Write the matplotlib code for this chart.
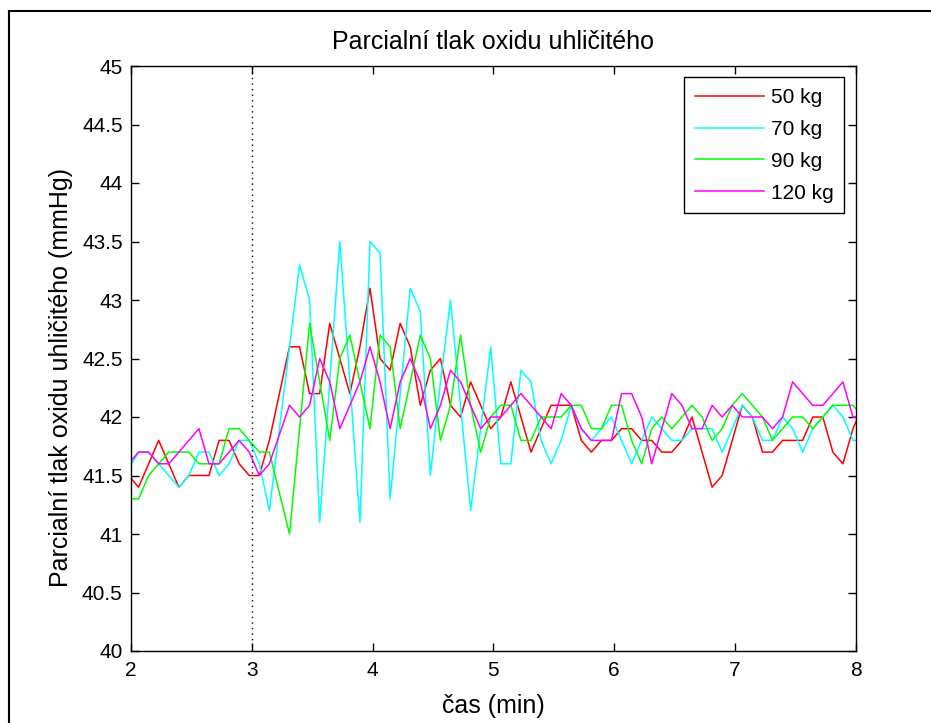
import numpy as np
import matplotlib
matplotlib.use("Agg")
import matplotlib.pyplot as plt
from matplotlib.lines import Line2D

plt.rcParams['font.family'] = ['Liberation Sans', 'DejaVu Sans']

# sample index k = -1 .. 72, sampling every 5 s (1/12 min)
sample_index = np.arange(-1, 73)
time_min = 2.0625 + sample_index / 12.0

series_labels = ["50 kg", "70 kg", "90 kg", "120 kg"]

pco2_50kg = [41.5, 41.4, 41.6, 41.8, 41.6, 41.4, 41.5, 41.5, 41.5, 41.8,
             41.8, 41.6, 41.5, 41.5, 41.8, 42.2, 42.6, 42.6, 42.2, 42.2,
             42.8, 42.5, 42.2, 42.6, 43.1, 42.5, 42.4, 42.8, 42.6, 42.1,
             42.4, 42.5, 42.1, 42.0, 42.3, 42.1, 41.9, 42.0, 42.3, 42.0,
             41.7, 41.9, 42.1, 42.1, 42.1, 41.8, 41.7, 41.8, 41.8, 41.9,
             41.9, 41.8, 41.8, 41.7, 41.7, 41.8, 42.0, 41.7, 41.4, 41.5,
             41.8, 42.1, 42.0, 41.7, 41.7, 41.8, 41.8, 41.8, 42.0, 42.0,
             41.7, 41.6, 41.9, 42.1]

pco2_70kg = [41.55, 41.7, 41.7, 41.6, 41.5, 41.4, 41.5, 41.7, 41.7, 41.5,
             41.6, 41.8, 41.8, 41.6, 41.2, 41.9, 42.6, 43.3, 43.0, 41.1,
             42.3, 43.5, 42.3, 41.1, 43.5, 43.4, 41.3, 42.2, 43.1, 42.9,
             41.5, 42.3, 43.0, 42.1, 41.2, 41.9, 42.6, 41.6, 41.6, 42.4,
             42.3, 41.8, 41.6, 41.8, 42.1, 41.9, 41.8, 41.9, 42.0, 41.8,
             41.6, 41.8, 42.0, 41.9, 41.8, 41.8, 41.9, 41.9, 41.9, 41.7,
             41.9, 42.1, 42.0, 41.8, 41.8, 42.0, 41.9, 41.7, 41.9, 42.0,
             42.1, 42.0, 41.8, 41.8]

pco2_90kg = [41.3, 41.3, 41.5, 41.6, 41.7, 41.7, 41.7, 41.6, 41.6, 41.6,
             41.9, 41.9, 41.8, 41.7, 41.7, 41.35, 41.0, 41.9, 42.8, 42.3,
             41.8, 42.5, 42.7, 42.3, 41.9, 42.7, 42.6, 41.9, 42.3, 42.7,
             42.5, 41.8, 42.1, 42.7, 42.1, 41.7, 42.0, 42.1, 42.1, 41.8,
             41.8, 42.0, 42.0, 42.0, 42.1, 42.1, 41.9, 41.9, 42.1, 42.1,
             41.8, 41.6, 41.9, 42.0, 41.9, 42.0, 42.1, 42.0, 41.8, 41.9,
             42.1, 42.2, 42.1, 42.0, 41.8, 41.9, 42.0, 42.0, 41.9, 42.0,
             42.1, 42.1, 42.1, 42.0]

pco2_120kg = [41.6, 41.7, 41.7, 41.6, 41.6, 41.7, 41.8, 41.9, 41.6, 41.6,
              41.7, 41.8, 41.7, 41.5, 41.6, 41.85, 42.1, 42.0, 42.1, 42.5,
              42.3, 41.9, 42.1, 42.3, 42.6, 42.3, 41.9, 42.3, 42.5, 42.3,
              41.9, 42.1, 42.4, 42.3, 42.1, 41.9, 42.0, 42.0, 42.1, 42.2,
              42.1, 42.0, 41.9, 42.2, 42.1, 41.9, 41.8, 41.8, 41.8, 42.2,
              42.2, 42.0, 41.6, 41.9, 42.2, 42.1, 41.9, 41.9, 42.1, 42.0,
              42.1, 42.0, 42.0, 42.0, 41.9, 42.0, 42.3, 42.2, 42.1, 42.1,
              42.2, 42.3, 42.0, 42.0]

x_ticks = [2, 3, 4, 5, 6, 7, 8]
y_ticks = [40, 40.5, 41, 41.5, 42, 42.5, 43, 43.5, 44, 44.5, 45]
y_tick_labels = ["40", "40.5", "41", "41.5", "42", "42.5", "43", "43.5", "44", "44.5", "45"]
event_time = 3

series = [pco2_50kg, pco2_70kg, pco2_90kg, pco2_120kg]
colors = ["#ff0000", "#00ffff", "#00ff00", "#ff00ff"]

FS = 15
FS_LAB = 18

fig = plt.figure(figsize=(9.31, 7.23), dpi=100)
fig.patch.set_facecolor("white")
ax = fig.add_axes([131 / 931, 1 - 651 / 723, (855.5 - 131) / 931, (651 - 66) / 723])

for vals, c, lab in zip(series, colors, series_labels):
    ax.plot(time_min, vals, color=c, lw=1.1, label=lab)

ax.axvline(event_time, color="black", lw=1.0, linestyle=(0, (1, 3)))

ax.set_xlim(2, 8)
ax.set_ylim(40, 45)
ax.set_xticks(x_ticks)
ax.set_xticklabels([str(v) for v in x_ticks])
ax.set_yticks(y_ticks)
ax.set_yticklabels(y_tick_labels)
ax.tick_params(direction="in", top=True, right=True, length=6, width=1.0,
               labelsize=FS, colors="black")
ax.tick_params(axis="x", pad=7.5)
ax.tick_params(axis="y", pad=6)
for s in ax.spines.values():
    s.set_linewidth(1.0)
    s.set_color("black")

ax.set_title("Parcialní tlak oxidu uhličitého", fontsize=FS_LAB, pad=12)
ax.set_xlabel("čas (min)", fontsize=FS_LAB, labelpad=10)
ax.set_ylabel("Parcialní tlak oxidu uhličitého (mmHg)", fontsize=FS_LAB)
ax.yaxis.set_label_coords(-0.08, 0.468)

leg = ax.legend(loc="upper right", fontsize=FS, frameon=True, fancybox=False,
                edgecolor="black", framealpha=1, handlelength=3.3,
                handletextpad=0.35, labelspacing=0.62, borderaxespad=0.55,
                borderpad=0.5)
leg.get_frame().set_linewidth(1.0)

# outer frame (top and left edges only visible)
fig.add_artist(Line2D([8.5 / 931, 8.5 / 931], [0, 1 - 10.5 / 723], color="black", lw=1.5,
                      transform=fig.transFigure))
fig.add_artist(Line2D([8.5 / 931, 1], [1 - 10.5 / 723, 1 - 10.5 / 723], color="black", lw=1.5,
                      transform=fig.transFigure))

fig.savefig("out.png", dpi=100, facecolor="white")
